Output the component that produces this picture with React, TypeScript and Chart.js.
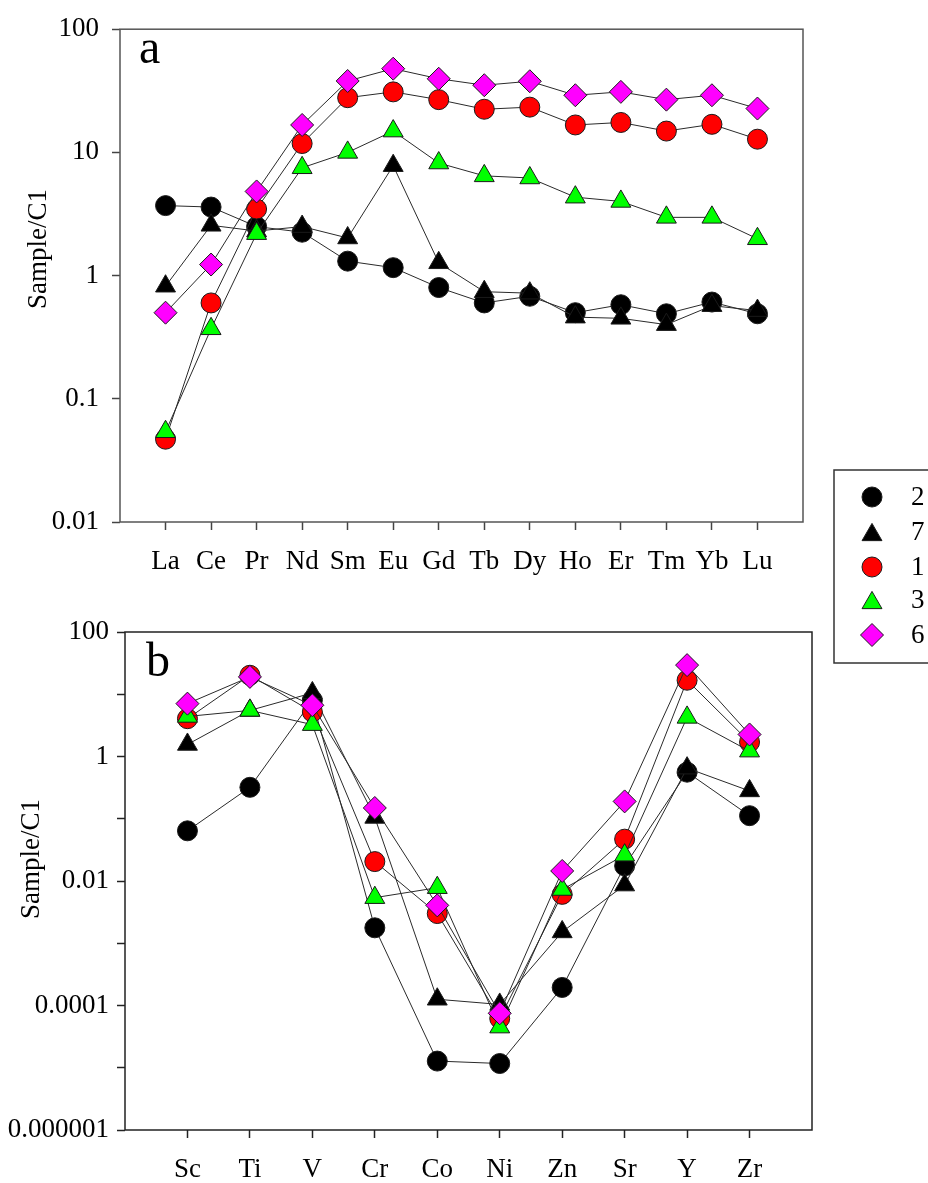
import React, { useEffect, useRef } from 'react';
import { Chart, registerables } from 'chart.js';

Chart.register(...registerables);

// ---------- data ----------
const categoriesA = ['La', 'Ce', 'Pr', 'Nd', 'Sm', 'Eu', 'Gd', 'Tb', 'Dy', 'Ho', 'Er', 'Tm', 'Yb', 'Lu'];
const sampleIds = ['2', '7', '1', '3', '6'];

const a2 = [3.7, 3.6, 2.5, 2.25, 1.31, 1.16, 0.8, 0.6, 0.68, 0.5, 0.58, 0.49, 0.61, 0.49];
const a7 = [0.82, 2.56, 2.3, 2.5, 2.02, 7.8, 1.27, 0.74, 0.72, 0.46, 0.45, 0.4, 0.57, 0.52];
const a1 = [0.047, 0.6, 3.47, 11.8, 27.8, 31, 26.8, 22.4, 23.3, 16.7, 17.5, 14.9, 16.9, 12.8];
const a3 = [0.054, 0.37, 2.19, 7.5, 10.0, 14.9, 8.2, 6.45, 6.2, 4.33, 4.0, 2.97, 2.97, 1.99];
const a6 = [0.5, 1.23, 4.82, 16.7, 38, 47.8, 39.6, 35.1, 37.8, 29.1, 31, 26.8, 29.1, 22.7];

const categoriesB = ['Sc', 'Ti', 'V', 'Cr', 'Co', 'Ni', 'Zn', 'Sr', 'Y', 'Zr'];
const b2 = [0.064, 0.32, 8, 0.00177, 1.28e-5, 1.17e-5, 1.95e-4, 0.0175, 0.56, 0.112];
const b7 = [1.56, 5.5, 10.5, 0.105, 1.26e-4, 1.04e-4, 1.52e-3, 8.6e-3, 0.65, 0.28];
const b1 = [4.05, 20.2, 5.2, 0.0205, 3.0e-3, 6.2e-5, 6.1e-3, 0.047, 16.8, 1.7];
const b3 = [4.4, 5.5, 3.25, 5.4e-3, 7.8e-3, 4.5e-5, 7.3e-3, 0.026, 4.25, 1.22];
const b6 = [7.07, 19, 6.65, 0.149, 4.06e-3, 7.5e-5, 0.0145, 0.19, 29.4, 2.26];

const yTicksA = [0.01, 0.1, 1, 10, 100];
const yTickLabelsA = ['0.01', '0.1', '1', '10', '100'];
const yTicksB = [1e-6, 1e-5, 1e-4, 1e-3, 1e-2, 1e-1, 1, 10, 100];
const yTickLabelsB = ['0.000001', '', '0.0001', '', '0.01', '', '1', '', '100'];

const yTitle = 'Sample/C1';

// ---------- styles ----------
const FONT = '"Liberation Serif", "Times New Roman", serif';
const styles: Record<string, { shape: string; r: number; fill: string }> = {
  '2': { shape: 'circle', r: 10, fill: '#000000' },
  '7': { shape: 'triangle', r: 11.5, fill: '#000000' },
  '1': { shape: 'circle', r: 10, fill: '#ff0000' },
  '3': { shape: 'triangle', r: 11.5, fill: '#00ff00' },
  '6': { shape: 'rectRot', r: 11.5, fill: '#ff00ff' },
};
const drawOrder: Record<string, number> = { '2': 5, '7': 4, '1': 3, '3': 2, '6': 1 };

function makeDatasets(series: number[][]) {
  return series.map((vals, si) => {
    const id = sampleIds[si];
    const st = styles[id];
    return {
      label: id,
      data: vals.map((v, i) => ({ x: i + 1, y: v })),
      order: drawOrder[id],
      borderColor: '#2a2a2a',
      borderWidth: 1,
      tension: 0,
      pointStyle: st.shape,
      pointRadius: st.r,
      pointBackgroundColor: st.fill,
      pointBorderColor: '#1a1a1a',
      pointBorderWidth: 1,
      fill: false,
    };
  });
}

function drawMarker(ctx: CanvasRenderingContext2D, shape: string, x: number, y: number, r: number, fill: string) {
  ctx.beginPath();
  if (shape === 'circle') {
    ctx.arc(x, y, r, 0, Math.PI * 2);
  } else if (shape === 'triangle') {
    const yc = y + r / 4;
    ctx.moveTo(x, yc - r);
    ctx.lineTo(x + r * Math.sin((2 * Math.PI) / 3), yc + r / 2);
    ctx.lineTo(x - r * Math.sin((2 * Math.PI) / 3), yc + r / 2);
    ctx.closePath();
  } else {
    ctx.moveTo(x - r, y);
    ctx.lineTo(x, y - r);
    ctx.lineTo(x + r, y);
    ctx.lineTo(x, y + r);
    ctx.closePath();
  }
  ctx.fillStyle = fill;
  ctx.fill();
  ctx.strokeStyle = '#1a1a1a';
  ctx.lineWidth = 1;
  ctx.stroke();
}

function decorPlugin(o: {
  frameColor: string;
  letter: string;
  letterX: number;
  letterY: number;
  titleX: number;
  titleY: number;
  legend?: boolean;
}) {
  return {
    id: 'decor',
    beforeDatasetsDraw(chart: any) {
      const { ctx, chartArea } = chart;
      ctx.save();
      ctx.strokeStyle = o.frameColor;
      ctx.lineWidth = 1.5;
      ctx.strokeRect(chartArea.left, chartArea.top, chartArea.right - chartArea.left, chartArea.bottom - chartArea.top);
      ctx.restore();
    },
    afterDraw(chart: any) {
      const { ctx } = chart;
      ctx.save();
      ctx.fillStyle = '#000';
      ctx.font = `48px ${FONT}`;
      ctx.textAlign = 'left';
      ctx.textBaseline = 'alphabetic';
      ctx.fillText(o.letter, o.letterX, o.letterY);

      ctx.translate(o.titleX, o.titleY);
      ctx.rotate(-Math.PI / 2);
      ctx.font = `27px ${FONT}`;
      ctx.textAlign = 'center';
      ctx.textBaseline = 'middle';
      ctx.fillText(yTitle, 0, 0);
      ctx.restore();

      if (o.legend) {
        ctx.save();
        ctx.strokeStyle = '#333';
        ctx.lineWidth = 1.5;
        ctx.strokeRect(834, 470, 150, 193);
        const ys = [497, 532, 567, 600, 635];
        sampleIds.forEach((id, i) => {
          const st = styles[id];
          drawMarker(ctx, st.shape, 872, ys[i], st.r, st.fill);
          ctx.fillStyle = '#000';
          ctx.font = `27px ${FONT}`;
          ctx.textAlign = 'left';
          ctx.textBaseline = 'middle';
          ctx.fillText(id, 911, ys[i] + 1);
        });
        ctx.restore();
      }
    },
  };
}

function buildConfig(p: {
  categories: string[];
  series: number[][];
  yTicks: number[];
  yLabels: string[];
  yMin: number;
  yMax: number;
  padding: { left: number; top: number; right: number; bottom: number };
  xHeight: number;
  yWidth: number;
  yPad: number;
  plugin: any;
  tickColor: string;
}): any {
  const tickFont = { family: FONT, size: 27 };
  return {
    type: 'line',
    data: { datasets: makeDatasets(p.series) },
    options: {
      animation: false,
      responsive: false,
      devicePixelRatio: 1,
      layout: { padding: p.padding },
      plugins: { legend: { display: false }, tooltip: { enabled: false } },
      scales: {
        x: {
          type: 'linear',
          min: 0,
          max: p.categories.length + 1,
          afterBuildTicks: (s: any) => {
            s.ticks = p.categories.map((_, i) => ({ value: i + 1 }));
          },
          afterFit: (s: any) => {
            s.height = p.xHeight;
          },
          border: { display: false },
          grid: { display: true, drawOnChartArea: false, drawTicks: true, tickLength: 8, tickColor: p.tickColor, tickWidth: 1.5 },
          ticks: {
            autoSkip: false,
            maxRotation: 0,
            minRotation: 0,
            padding: 16,
            color: '#000',
            font: tickFont,
            callback: (v: number) => p.categories[Math.round(v) - 1] ?? '',
          },
        },
        y: {
          type: 'logarithmic',
          min: p.yMin,
          max: p.yMax,
          afterBuildTicks: (s: any) => {
            s.ticks = p.yTicks.map((v) => ({ value: v }));
          },
          afterFit: (s: any) => {
            s.width = p.yWidth;
          },
          border: { display: false },
          grid: { display: true, drawOnChartArea: false, drawTicks: true, tickLength: 8, tickColor: p.tickColor, tickWidth: 1.5 },
          ticks: {
            autoSkip: false,
            padding: p.yPad,
            color: '#000',
            font: tickFont,
            callback: (v: number) => {
              const idx = p.yTicks.findIndex((t) => Math.abs(Math.log10(t) - Math.log10(v)) < 1e-6);
              return idx >= 0 ? p.yLabels[idx] : '';
            },
          },
        },
      },
    },
    plugins: [p.plugin],
  };
}

export default function App() {
  const refA = useRef<HTMLCanvasElement>(null);
  const refB = useRef<HTMLCanvasElement>(null);

  useEffect(() => {
    const chartA = new Chart(
      refA.current as HTMLCanvasElement,
      buildConfig({
        categories: categoriesA,
        series: [a2, a7, a1, a3, a6],
        yTicks: yTicksA,
        yLabels: yTickLabelsA,
        yMin: 0.01,
        yMax: 100,
        padding: { left: 0, top: 27, right: 125, bottom: 90 },
        xHeight: 68,
        yWidth: 120,
        yPad: 13,
        tickColor: '#444',
        plugin: decorPlugin({ frameColor: '#555', letter: 'a', letterX: 139, letterY: 63, titleX: 39, titleY: 249, legend: true }),
      })
    );
    const chartB = new Chart(
      refB.current as HTMLCanvasElement,
      buildConfig({
        categories: categoriesB,
        series: [b2, b7, b1, b3, b6],
        yTicks: yTicksB,
        yLabels: yTickLabelsB,
        yMin: 1e-6,
        yMax: 100,
        padding: { left: 0, top: 42, right: 116, bottom: 0 },
        xHeight: 53,
        yWidth: 125,
        yPad: 8,
        tickColor: '#222',
        plugin: decorPlugin({ frameColor: '#222', letter: 'b', letterX: 146, letterY: 86, titleX: 32, titleY: 269 }),
      })
    );
    return () => {
      chartA.destroy();
      chartB.destroy();
    };
  }, []);

  return (
    <div style={{ position: 'absolute', left: 0, top: 0, width: 928, height: 1183, overflow: 'hidden', background: '#fff' }}>
      <canvas ref={refA} width={928} height={680} style={{ position: 'absolute', left: 0, top: 0, width: 928, height: 680 }} />
      <canvas ref={refB} width={928} height={593} style={{ position: 'absolute', left: 0, top: 590, width: 928, height: 593 }} />
    </div>
  );
}
